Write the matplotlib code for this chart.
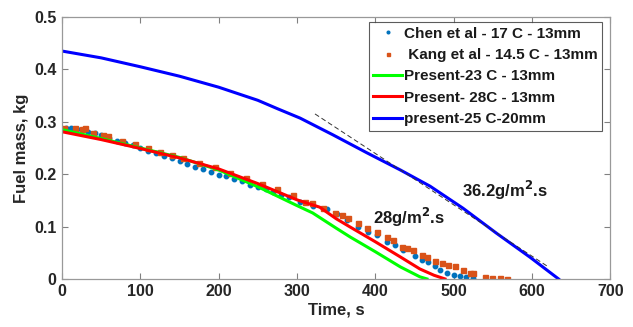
import matplotlib
matplotlib.use("Agg")
import matplotlib.pyplot as plt

plt.rcParams['font.family'] = ['Liberation Sans', 'DejaVu Sans']
plt.rcParams['font.weight'] = 'bold'
plt.rcParams['mathtext.default'] = 'bf'

# Chen et al - 17 C - 13mm (blue dots)
chen_t = [5, 12, 19, 26, 33, 42, 50, 60, 70, 80, 90, 100, 110, 120, 130, 140, 150,
          160, 170, 180, 190, 200, 210, 220, 230, 240, 250, 260, 270, 280, 290, 304,
          320, 338, 351, 364, 378, 391, 402, 415, 425, 436, 451, 460, 467, 476, 483,
          492, 500, 508, 516, 525]
chen_m = [0.289, 0.288, 0.287, 0.285, 0.281, 0.278, 0.274, 0.269, 0.264, 0.260, 0.255,
          0.249, 0.245, 0.240, 0.235, 0.231, 0.226, 0.220, 0.214, 0.209, 0.204, 0.199,
          0.196, 0.191, 0.186, 0.180, 0.175, 0.171, 0.166, 0.161, 0.156, 0.147,
          0.140, 0.134, 0.124, 0.113, 0.100, 0.090, 0.084, 0.071, 0.065, 0.055,
          0.044, 0.036, 0.033, 0.025, 0.017, 0.012, 0.008, 0.006, 0.004, 0.002]

# Kang et al - 14.5 C - 13mm (orange squares)
kang_t = [2, 17, 25, 29, 39, 52, 59, 77, 93, 110, 125, 140, 155, 175, 195, 215, 235,
          255, 275, 295, 310, 319, 333, 349, 358, 365, 378, 390, 402, 415, 423, 434,
          441, 448, 460, 466, 476, 485, 493, 502, 512, 521, 525, 540, 549, 559, 568]
kang_m = [0.289, 0.288, 0.287, 0.288, 0.279, 0.275, 0.273, 0.263, 0.257, 0.250, 0.242,
          0.237, 0.230, 0.222, 0.213, 0.203, 0.192, 0.182, 0.172, 0.161, 0.147, 0.145,
          0.135, 0.126, 0.122, 0.116, 0.107, 0.098, 0.090, 0.080, 0.074, 0.061, 0.059,
          0.055, 0.046, 0.042, 0.034, 0.031, 0.027, 0.025, 0.017, 0.012, 0.011, 0.004,
          0.002, 0.001, 0.000]

# Present-23 C - 13mm (green)
green_t = [0, 50, 100, 150, 200, 250, 300, 320, 350, 368, 400, 432, 457, 466]
green_m = [0.285, 0.268, 0.250, 0.232, 0.208, 0.176, 0.140, 0.126, 0.097, 0.080,
           0.052, 0.023, 0.004, 0.0]

# Present- 28C - 13mm (red)
red_t = [0, 50, 100, 150, 200, 250, 300, 329, 350, 368, 400, 432, 457, 475, 489]
red_m = [0.281, 0.266, 0.249, 0.231, 0.210, 0.182, 0.151, 0.137, 0.115, 0.099,
         0.071, 0.042, 0.019, 0.007, 0.0]

# present-25 C-20mm (blue)
blue_t = [0, 50, 100, 150, 200, 250, 275, 304, 325, 346, 389, 432, 470, 512, 555,
          598, 634]
blue_m = [0.435, 0.422, 0.405, 0.387, 0.366, 0.341, 0.325, 0.307, 0.291, 0.275,
          0.241, 0.208, 0.177, 0.135, 0.087, 0.041, 0.0]

# dashed tangent line
tangent_t = [323, 621]
tangent_m = [0.315, 0.023]

fig = plt.figure(figsize=(6.33, 3.27), dpi=100)
ax = fig.add_axes([0.098, 0.147, 0.866, 0.801])

ax.plot(chen_t, chen_m, linestyle='none', marker='o', markersize=3.2,
        color='#0072BD', label='Chen et al - 17 C - 13mm')
ax.plot(kang_t, kang_m, linestyle='none', marker='s', markersize=3.6,
        color='#D95319', label=' Kang et al - 14.5 C - 13mm')
ax.plot(green_t, green_m, color='#00FF00', lw=2.2, label='Present-23 C - 13mm')
ax.plot(red_t, red_m, color='#FF0000', lw=2.2, label='Present- 28C - 13mm')
ax.plot(blue_t, blue_m, color='#0000FF', lw=2.2, label='present-25 C-20mm')
ax.plot(tangent_t, tangent_m, color='#333333', lw=0.7, linestyle=(0, (5, 3)))

ax.text(397, 0.105, '28g/m$^{2}$.s', fontsize=12, fontweight='bold',
        va='baseline', ha='left', color='#1a1a1a')
ax.text(511, 0.156, '36.2g/m$^{2}$.s', fontsize=12, fontweight='bold',
        va='baseline', ha='left', color='#1a1a1a')

ax.set_xlim(0, 700)
ax.set_ylim(0, 0.5)
ax.set_xticks([0, 100, 200, 300, 400, 500, 600, 700])
ax.set_yticks([0, 0.1, 0.2, 0.3, 0.4, 0.5])
ax.set_yticklabels(['0', '0.1', '0.2', '0.3', '0.4', '0.5'])
ax.tick_params(direction='in', top=True, right=True, length=4, width=0.8,
               color='#808080', labelsize=11.5, pad=4)
for lab in ax.get_xticklabels() + ax.get_yticklabels():
    lab.set_fontweight('bold')
    lab.set_color('#262626')
for s in ax.spines.values():
    s.set_color('#999999')
    s.set_linewidth(0.9)

ax.set_xlabel('Time, s', fontsize=12, fontweight='bold', color='#262626', labelpad=2)
ax.set_ylabel('Fuel mass, kg', fontsize=12, fontweight='bold', color='#262626', labelpad=4)

leg = ax.legend(loc='upper right', bbox_to_anchor=(0.985, 0.98), fontsize=11,
                frameon=True, fancybox=False, borderpad=0.3, labelspacing=0.48,
                handlelength=1.9, handletextpad=0.1, borderaxespad=0.0,
                markerscale=0.6)
leg.get_frame().set_edgecolor('#333333')
leg.get_frame().set_linewidth(0.8)
for t in leg.get_texts():
    t.set_fontweight('bold')
    t.set_color('#1a1a1a')

fig.savefig('out.png', dpi=100)
